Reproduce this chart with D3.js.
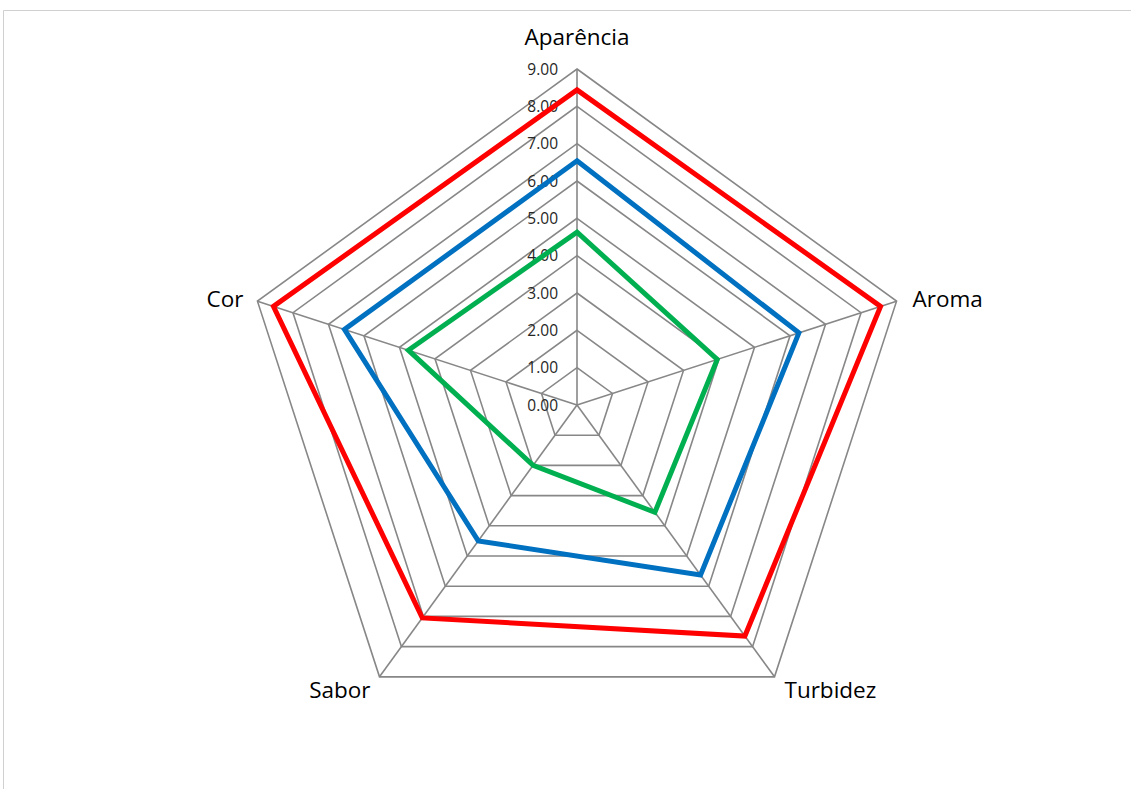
<!DOCTYPE html>
<html><head><meta charset="utf-8">
<script src="https://cdn.jsdelivr.net/npm/d3@7"></script>
<style>html,body{margin:0;padding:0;background:#fff;}svg{display:block;}</style>
</head><body>
<svg id="chart" width="1131" height="789"></svg>
<script>
const categories = ["Aparência", "Aroma", "Turbidez", "Sabor", "Cor"];
const seriesNames = ["Amostra 1", "Amostra 2", "Amostra 3"];
const seriesValues = [
  [8.44, 8.55, 7.65, 7.05, 8.55],
  [6.54, 6.25, 5.63, 4.50, 6.55],
  [4.63, 3.95, 3.55, 2.00, 4.75]
];
const seriesColors = ["#FF0000", "#0070C0", "#00B050"];
const tickValues = [0, 1, 2, 3, 4, 5, 6, 7, 8, 9];

const svg = d3.select("#chart");
const cx = 577, cy = 405, R = 336;
const r = d3.scaleLinear().domain([0, 9]).range([0, R]);
const angle = i => -Math.PI / 2 + i * 2 * Math.PI / categories.length;
const pt = (i, v) => [cx + r(v) * Math.cos(angle(i)), cy + r(v) * Math.sin(angle(i))];
const FONT = "'Open Sans', 'Noto Sans', sans-serif";

// chart frame (partially visible)
svg.append("path").attr("d", "M3.5,789 L3.5,10.5 L1131,10.5")
  .attr("fill", "none").attr("stroke", "#d0d0d0").attr("stroke-width", 1);

const grid = svg.append("g");
tickValues.filter(t => t > 0).forEach(t => {
  grid.append("polygon")
    .attr("points", categories.map((c, i) => pt(i, t).join(",")).join(" "))
    .attr("fill", "none").attr("stroke", "#878787").attr("stroke-width", 1.6);
});
categories.forEach((c, i) => {
  const [x, y] = pt(i, 9);
  grid.append("line").attr("x1", cx).attr("y1", cy).attr("x2", x).attr("y2", y)
    .attr("stroke", "#878787").attr("stroke-width", 1.6);
});

// tick labels
svg.append("g").selectAll("text").data(tickValues).join("text")
  .attr("x", cx - 19).attr("y", d => cy - r(d) + 1.5)
  .attr("text-anchor", "end").attr("dominant-baseline", "middle")
  .attr("font-family", FONT).attr("font-size", 15.5)
  .attr("fill", "#262626")
  .text(d => d3.format(".2f")(d));

// series
const line = d3.line().curve(d3.curveLinearClosed);
seriesValues.forEach((vals, s) => {
  svg.append("path")
    .attr("d", line(vals.map((v, i) => pt(i, v))))
    .attr("fill", "none").attr("stroke", seriesColors[s]).attr("stroke-width", 5)
    .attr("stroke-linejoin", "miter");
});

// category labels
const lab = svg.append("g").attr("font-family", FONT)
  .attr("font-size", 22.5).attr("fill", "#000");
categories.forEach((c, i) => {
  const [x, y] = pt(i, 9);
  const a = angle(i);
  const cs = Math.cos(a), sn = Math.sin(a);
  let anchor = Math.abs(cs) < 0.1 ? "middle" : (cs > 0 ? "start" : "end");
  let tx = x, ty = y;
  if (i === 0) { ty = y - 30; }
  else if (Math.abs(sn) < 0.5) { tx = x + (cs > 0 ? 16 : -14); ty = y; }
  else { tx = x + (cs > 0 ? 10 : -9); ty = y + 15; }
  lab.append("text").attr("x", tx).attr("y", ty)
    .attr("text-anchor", anchor).attr("dominant-baseline", "middle").text(c);
});
</script>
</body></html>
